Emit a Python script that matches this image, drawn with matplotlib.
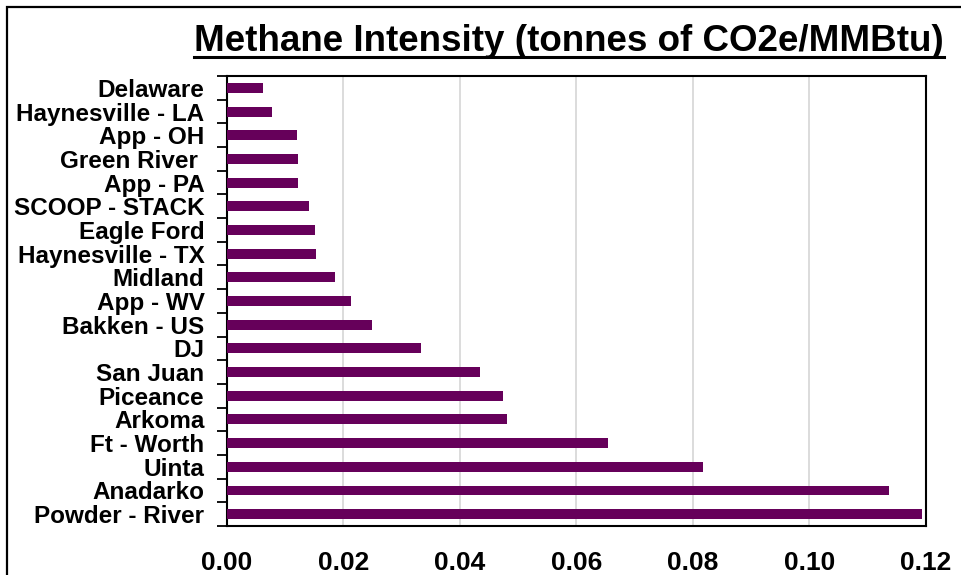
import matplotlib
matplotlib.use("Agg")
import matplotlib.pyplot as plt
from matplotlib.patches import Rectangle
from matplotlib.lines import Line2D
import numpy as np

plt.rcParams['font.family'] = ['Liberation Sans', 'DejaVu Sans']
plt.rcParams['font.weight'] = 'bold'

categories = ["Delaware", "Haynesville - LA", "App - OH", "Green River ", "App - PA",
              "SCOOP - STACK", "Eagle Ford", "Haynesville - TX", "Midland", "App - WV",
              "Bakken - US", "DJ", "San Juan", "Piceance", "Arkoma", "Ft - Worth",
              "Uinta", "Anadarko", "Powder - River"]
values = [0.0062, 0.0078, 0.0120, 0.0122, 0.0122,
          0.0142, 0.0151, 0.0154, 0.0186, 0.0214,
          0.0250, 0.0333, 0.0434, 0.0474, 0.0481, 0.0655,
          0.0817, 0.1136, 0.1193]
xticks = [0.00, 0.02, 0.04, 0.06, 0.08, 0.10, 0.12]
title = "Methane Intensity (tonnes of CO2e/MMBtu)"

W, H = 962, 575
fig = plt.figure(figsize=(W/100, H/100), dpi=100)
fig.patch.set_facecolor('white')

# outer frame
fig.patches.append(Rectangle((6.5/W, -0.2), 1.2, 1.2 - 7/H, transform=fig.transFigure,
                             fill=False, edgecolor='black', linewidth=1.6))

left, right, top, bottom = 226.7, 926, 76, 526
ax = fig.add_axes([left/W, 1 - bottom/H, (right-left)/W, (bottom-top)/H])

y = np.arange(len(categories))
ax.barh(y, values, height=0.42, color='#66005A', zorder=3)
ax.set_ylim(len(categories) - 0.5, -0.5)
ax.set_xlim(0, 0.12)

ax.set_yticks(y)
ax.set_yticklabels(categories, fontsize=17.5, fontweight='bold')
ax.set_yticks(np.arange(-0.5, len(categories), 1), minor=True)
ax.tick_params(axis='y', which='major', length=0, pad=16)
ax.tick_params(axis='y', which='minor', length=7, width=1.3, direction='out')

ax.set_xticks(xticks)
ax.set_xticklabels([f"{t:.2f}" for t in xticks], fontsize=19, fontweight='bold')
ax.tick_params(axis='x', which='both', length=0, pad=18)
ax.xaxis.grid(True, color='#d9d9d9', linewidth=1.3, zorder=0)
ax.set_axisbelow(True)
for s in ax.spines.values():
    s.set_linewidth(1.5)
    s.set_color('black')

t = fig.text(569/W, 1 - 51/H, title, ha='center', va='baseline', fontsize=26.5, fontweight='bold')
fig.canvas.draw()
bb = t.get_window_extent(fig.canvas.get_renderer())
uy = 1 - 57/H
fig.add_artist(Line2D([bb.x0/W, bb.x1/W], [uy, uy], transform=fig.transFigure, color='black', linewidth=2.2))

fig.savefig("out.png", dpi=100)
